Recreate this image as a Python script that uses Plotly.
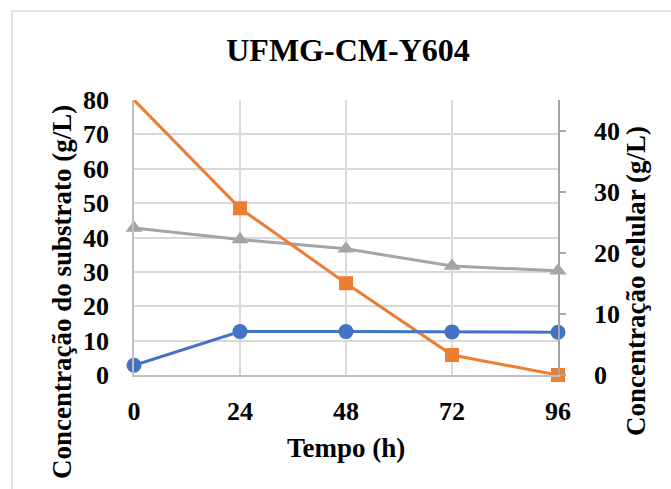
import plotly.graph_objects as go

tempo = [0, 24, 48, 72, 96]
substrato = [80, 48.5, 26.7, 5.8, 0]          # left axis, orange squares
serie_cinza = [42.8, 39.4, 36.7, 31.7, 30.3]  # left axis, grey triangles
celular = [1.6, 7.1, 7.1, 7.05, 7.0]          # right axis, blue circles

x_ticks = [0, 24, 48, 72, 96]
y1_ticks = [0, 10, 20, 30, 40, 50, 60, 70, 80]
y2_ticks = [0, 10, 20, 30, 40]

FONT = "Liberation Serif"
BLUE, ORANGE, GREY = "#4472C4", "#ED7D31", "#A5A5A5"
AXIS_COL, GRID_COL = "#BFBFBF", "#D9D9D9"

fig = go.Figure()
fig.add_trace(go.Scatter(x=tempo, y=celular, yaxis="y2", mode="lines+markers",
                         line=dict(color=BLUE, width=3),
                         marker=dict(symbol="circle", size=15, color=BLUE),
                         cliponaxis=False, showlegend=False))
fig.add_trace(go.Scatter(x=tempo, y=serie_cinza, mode="lines+markers",
                         line=dict(color=GREY, width=3),
                         marker=dict(symbol="triangle-up", size=15, color=GREY),
                         cliponaxis=False, showlegend=False))
fig.add_trace(go.Scatter(x=tempo, y=substrato, mode="lines",
                         line=dict(color=ORANGE, width=3),
                         cliponaxis=False, showlegend=False))
# first point sits on the axis limit and its marker is not drawn in the original
fig.add_trace(go.Scatter(x=tempo[1:], y=substrato[1:], mode="markers",
                         marker=dict(symbol="square", size=14, color=ORANGE,
                                     line=dict(width=0)),
                         cliponaxis=False, showlegend=False))

tickfont = dict(family=FONT, size=26, color="black", weight="bold")
titlefont = dict(family=FONT, size=27, color="black", weight="bold")

fig.update_layout(
    width=671, height=489,
    margin=dict(l=134, r=113, t=100, b=114),
    paper_bgcolor="white", plot_bgcolor="white",
    title=dict(text="UFMG-CM-Y604", x=348 / 671, xanchor="center",
               y=1 - 50 / 489, yanchor="middle",
               font=dict(family=FONT, size=32, color="black", weight="bold")),
    xaxis=dict(range=[0, 96], tickvals=x_ticks, ticktext=[str(v) for v in x_ticks],
               showgrid=True, gridcolor=GRID_COL, gridwidth=1.5,
               showline=True, linecolor=AXIS_COL, linewidth=1.5,
               ticks="", tickfont=tickfont, ticklabelstandoff=12, zeroline=False),
    yaxis=dict(range=[0, 80], tickvals=y1_ticks, showgrid=True, gridcolor=GRID_COL,
               gridwidth=1.5, showline=True, linecolor=AXIS_COL, linewidth=1.5,
               ticks="", tickfont=tickfont, ticklabelstandoff=18, zeroline=False),
    yaxis2=dict(range=[0, 45], tickvals=y2_ticks, overlaying="y", side="right",
                showgrid=False, showline=True, linecolor="#A6A6A6", linewidth=1.5,
                ticks="outside", ticklen=6, tickcolor="#A6A6A6", tickwidth=1.5,
                tickfont=tickfont, ticklabelstandoff=23, zeroline=False),
)

fig.add_annotation(text="Concentração do substrato (g/L)", textangle=-90,
                   xref="paper", yref="paper", x=(62 - 134) / 424, y=(375 - 292) / 275,
                   xanchor="center", yanchor="middle", showarrow=False, font=titlefont)
fig.add_annotation(text="Concentração celular (g/L)", textangle=-90,
                   xref="paper", yref="paper", x=(636 - 134) / 424, y=(375 - 281) / 275,
                   xanchor="center", yanchor="middle", showarrow=False, font=titlefont)
fig.add_annotation(text="Tempo (h)", xref="paper", yref="paper",
                   x=0.5, y=(375 - 448) / 275, xanchor="center", yanchor="middle",
                   showarrow=False, font=titlefont)

# chart-area border (partially visible: top and left edges)
fig.add_shape(type="line", xref="paper", yref="paper",
              x0=(12 - 134) / 424, x1=(700 - 134) / 424,
              y0=(375 - 11) / 275, y1=(375 - 11) / 275,
              line=dict(color="#D9D9D9", width=1.5))
fig.add_shape(type="line", xref="paper", yref="paper",
              x0=(12 - 134) / 424, x1=(12 - 134) / 424,
              y0=(375 - 11) / 275, y1=(375 - 520) / 275,
              line=dict(color="#D9D9D9", width=1.5))

fig.write_html("out.html")
